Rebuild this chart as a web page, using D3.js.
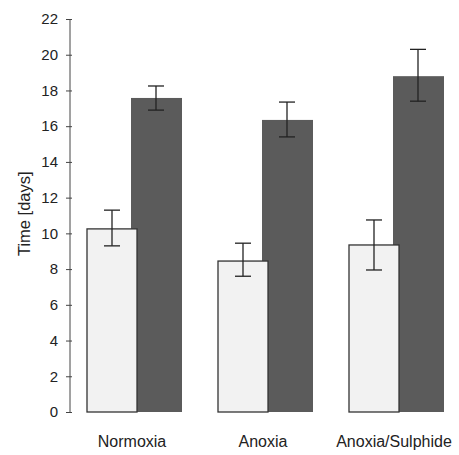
<!DOCTYPE html>
<html lang="en">
<head>
	<meta charset="utf-8">
	<title>Time</title>
	<style>
		body { margin: 0; background: #fff; }
		text { font-family: "Liberation Sans", Arial, sans-serif; fill: #222; }
		.axis path, .axis line { stroke: #444; }
	</style>
</head>
<body>
	<div id="chart"></div>
	<script src="https://cdn.jsdelivr.net/npm/d3@7"></script>
	<script>
		var width = 459,
			height = 455;

		// data
		var categories = ["Normoxia", "Anoxia", "Anoxia/Sulphide"];
		var lightMeans = [10.25, 8.45, 9.35];
		var lightLow = [9.3, 7.6, 7.95];
		var lightHigh = [11.3, 9.45, 10.75];
		var darkMeans = [17.58, 16.35, 18.8];
		var darkLow = [16.9, 15.4, 17.4];
		var darkHigh = [18.25, 17.35, 20.3];
		var yTicks = [0, 2, 4, 6, 8, 10, 12, 14, 16, 18, 20, 22];

		var margin = { top: 19, left: 70, bottom: 43 };

		var svg = d3.select("#chart")
			.append("svg")
			.attr("width", width)
			.attr("height", height);

		var y = d3.scaleLinear()
			.domain([0, 22])
			.range([height - margin.bottom, margin.top]);

		var x = d3.scaleBand()
			.domain(categories)
			.range([76, 469])
			.paddingInner(0)
			.paddingOuter(0);

		var barW = 50;
		var lightX = function (i) { return x(categories[i]) + 11; };
		var darkX = function (i) { return x(categories[i]) + 55; };

		// dark bars (drawn first, light ones overlap them)
		svg.append("g").selectAll("rect")
			.data(darkMeans)
			.enter().append("rect")
			.attr("x", function (d, i) { return darkX(i); })
			.attr("y", function (d) { return y(d); })
			.attr("width", barW + 1)
			.attr("height", function (d) { return y(0) - y(d); })
			.attr("fill", "#5b5b5b");

		svg.append("g").selectAll("rect")
			.data(lightMeans)
			.enter().append("rect")
			.attr("x", function (d, i) { return lightX(i); })
			.attr("y", function (d) { return y(d); })
			.attr("width", barW)
			.attr("height", function (d) { return y(0) - y(d); })
			.attr("fill", "#f2f2f2")
			.attr("stroke", "#333")
			.attr("stroke-width", 1.3);

		// error bars
		function errorBars(low, high, cx) {
			var g = svg.append("g").attr("stroke", "#222").attr("stroke-width", 1.3);
			low.forEach(function (lo, i) {
				var c = cx(i);
				g.append("line").attr("x1", c).attr("x2", c).attr("y1", y(lo)).attr("y2", y(high[i]));
				g.append("line").attr("x1", c - 8).attr("x2", c + 8).attr("y1", y(lo)).attr("y2", y(lo));
				g.append("line").attr("x1", c - 8).attr("x2", c + 8).attr("y1", y(high[i])).attr("y2", y(high[i]));
			});
		}
		errorBars(lightLow, lightHigh, function (i) { return lightX(i) + barW / 2; });
		errorBars(darkLow, darkHigh, function (i) { return darkX(i) + barW / 2; });

		// y axis
		svg.append("g")
			.attr("class", "axis")
			.attr("transform", "translate(" + margin.left + ",0)")
			.call(d3.axisLeft(y).tickValues(yTicks).tickSize(4).tickPadding(8))
			.call(function (g) { g.select(".domain").attr("d", "M0," + y(22) + "V" + y(0)); })
			.call(function (g) { g.selectAll(".tick line").attr("x2", 2).attr("x1", -4); })
			.selectAll("text")
			.style("font-size", "15px");

		svg.append("text")
			.attr("transform", "translate(30," + y(11.1) + ") rotate(-90)")
			.attr("text-anchor", "middle")
			.style("font-size", "16.5px")
			.text("Time [days]");

		// category labels
		svg.append("g").selectAll("text")
			.data(categories)
			.enter().append("text")
			.attr("x", function (d) { return x(d) + 56; })
			.attr("y", 447)
			.attr("text-anchor", "middle")
			.style("font-size", "16px")
			.text(function (d) { return d; });
	</script>
</body>
</html>
